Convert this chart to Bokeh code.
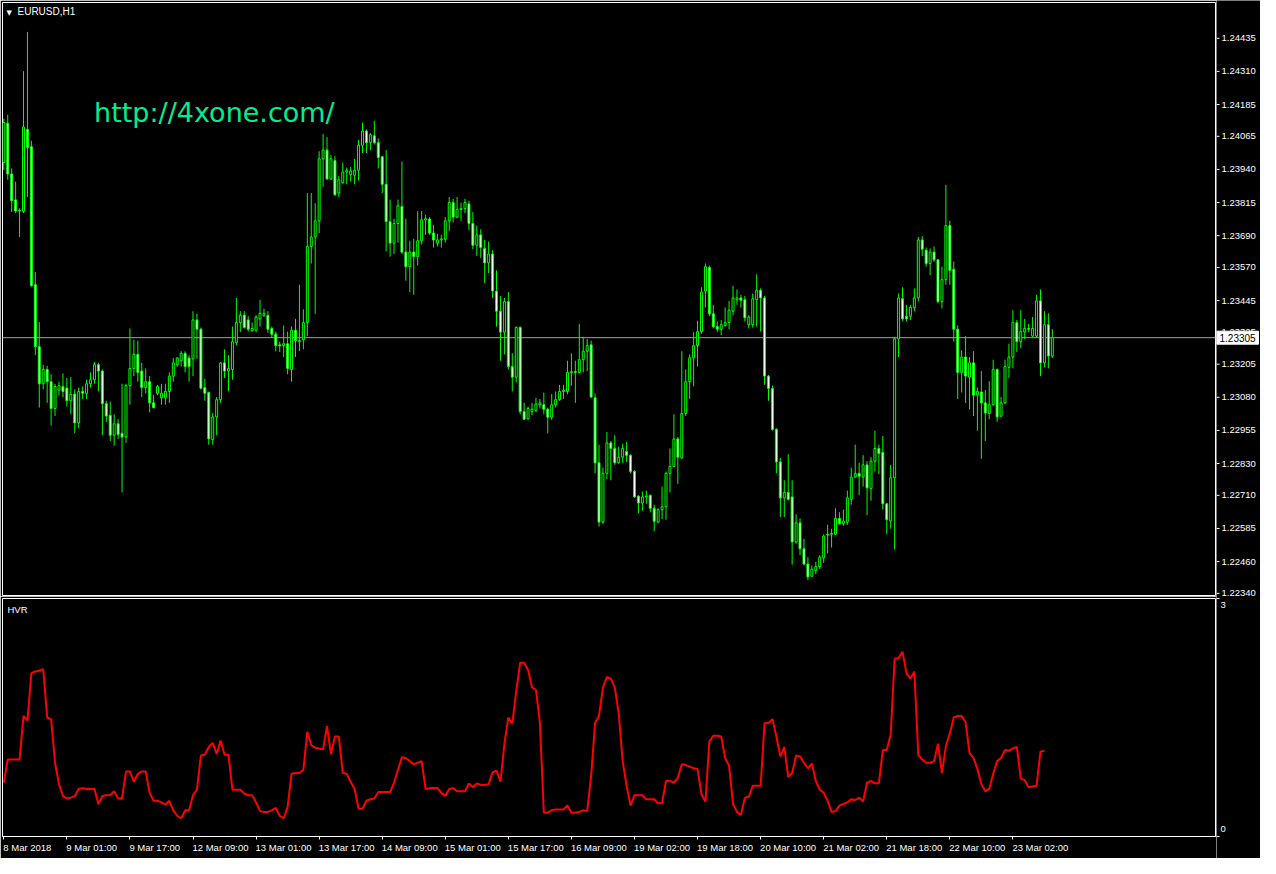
import numpy as np
from bokeh.plotting import figure
from bokeh.models import (ColumnDataSource, Range1d, FixedTicker, Span, Label, LinearAxis)
from bokeh.layouts import column, row
from bokeh.core.properties import value
from bokeh.embed import file_html
from bokeh.resources import INLINE

nan = float("nan")

symbol = "EURUSD,H1"
indicator = "HVR"
watermark = "http://4xone.com/"
last_price = 1.23305

open_ = [
    1.23966, 1.24114, 1.23923, 1.23825, 1.23783, 1.23782, 1.24091, 1.24026, 1.23505, 1.23271,
    1.23131, 1.23185, 1.23139, 1.23038, 1.23107, 1.23120, 1.23115, 1.23067, 1.23092, 1.22983,
    1.23102, 1.23095, 1.23131, 1.23146, 1.23203, 1.23179, 1.23056, 1.23012, 1.22937, 1.22980,
    1.22944, 1.22930, 1.23124, 1.23189, 1.23242, 1.23179, 1.23117, 1.23139, 1.23059, 1.23095,
    1.23078, 1.23078, 1.23102, 1.23160, 1.23203, 1.23218, 1.23246, 1.23228, 1.23225, 1.23372,
    1.23337, 1.23117, 1.23098, 1.22920, 1.23006, 1.23071, 1.23210, 1.23179, 1.23185, 1.23287,
    1.23362, 1.23390, 1.23372, 1.23331, 1.23333, 1.23376, 1.23389, 1.23389, 1.23340, 1.23318,
    1.23278, 1.23275, 1.23282, 1.23185, 1.23333, 1.23290, 1.23297, 1.23362, 1.23649, 1.23685,
    1.23746, 1.23980, 1.24013, 1.23904, 1.23973, 1.23851, 1.23890, 1.23930, 1.23920, 1.23918,
    1.23937, 1.24031, 1.24085, 1.24042, 1.24067, 1.24041, 1.23988, 1.23884, 1.23743, 1.23662,
    1.23736, 1.23800, 1.23628, 1.23573, 1.23628, 1.23611, 1.23671, 1.23749, 1.23753, 1.23700,
    1.23662, 1.23674, 1.23677, 1.23746, 1.23815, 1.23760, 1.23789, 1.23792, 1.23810, 1.23736,
    1.23654, 1.23693, 1.23642, 1.23587, 1.23621, 1.23481, 1.23405, 1.23326, 1.23441, 1.23196,
    1.23156, 1.23344, 1.23026, 1.22999, 1.23026, 1.23031, 1.23052, 1.23052, 1.23035, 1.23005,
    1.23052, 1.23071, 1.23102, 1.23102, 1.23173, 1.23177, 1.23174, 1.23222, 1.23254, 1.23278,
    1.23078, 1.22833, 1.22609, 1.22793, 1.22908, 1.22887, 1.22833, 1.22854, 1.22875, 1.22861,
    1.22800, 1.22707, 1.22681, 1.22704, 1.22710, 1.22661, 1.22609, 1.22656, 1.22667, 1.22793,
    1.22819, 1.22923, 1.22851, 1.23019, 1.23139, 1.23229, 1.23275, 1.23328, 1.23481, 1.23570,
    1.23395, 1.23347, 1.23337, 1.23351, 1.23362, 1.23405, 1.23448, 1.23455, 1.23448, 1.23354,
    1.23354, 1.23448, 1.23484, 1.23455, 1.23160, 1.23113, 1.22959, 1.22836, 1.22700, 1.22721,
    1.22704, 1.22534, 1.22606, 1.22508, 1.22451, 1.22405, 1.22426, 1.22441, 1.22474, 1.22560,
    1.22563, 1.22563, 1.22623, 1.22603, 1.22609, 1.22695, 1.22779, 1.22793, 1.22779, 1.22825,
    1.22736, 1.22839, 1.22887, 1.22872, 1.22678, 1.22613, 1.22776, 1.23300, 1.23452, 1.23386,
    1.23386, 1.23418, 1.23455, 1.23674, 1.23635, 1.23585, 1.23628, 1.23599, 1.23441, 1.23524,
    1.23728, 1.23563, 1.23337, 1.23174, 1.23232, 1.23156, 1.23210, 1.23088, 1.23100, 1.23059,
    1.23019, 1.23052, 1.23185, 1.23009, 1.23059, 1.23193, 1.23232, 1.23362, 1.23290, 1.23326,
    1.23340, 1.23311, 1.23311, 1.23444, 1.23210, 1.23354, 1.23236,
]

high_ = [
    1.24131, 1.24146, 1.23944, 1.23894, 1.23793, 1.24311, 1.24459, 1.24048, 1.23553, 1.23364,
    1.23203, 1.23199, 1.23167, 1.23131, 1.23139, 1.23170, 1.23153, 1.23156, 1.23110, 1.23117,
    1.23121, 1.23146, 1.23174, 1.23213, 1.23210, 1.23185, 1.23067, 1.23064, 1.23016, 1.22997,
    1.23131, 1.23131, 1.23340, 1.23297, 1.23294, 1.23210, 1.23189, 1.23160, 1.23088, 1.23127,
    1.23131, 1.23131, 1.23174, 1.23228, 1.23232, 1.23254, 1.23254, 1.23239, 1.23405, 1.23395,
    1.23343, 1.23150, 1.23102, 1.23021, 1.23081, 1.23213, 1.23261, 1.23239, 1.23347, 1.23455,
    1.23405, 1.23405, 1.23386, 1.23362, 1.23390, 1.23448, 1.23415, 1.23405, 1.23347, 1.23328,
    1.23290, 1.23351, 1.23328, 1.23347, 1.23376, 1.23505, 1.23412, 1.23851, 1.23851, 1.23812,
    1.24009, 1.24074, 1.24062, 1.23995, 1.23990, 1.23915, 1.23966, 1.23947, 1.23949, 1.23980,
    1.24052, 1.24117, 1.24091, 1.24077, 1.24124, 1.24057, 1.23990, 1.24013, 1.23826, 1.23754,
    1.23826, 1.23970, 1.23754, 1.23671, 1.23678, 1.23783, 1.23783, 1.23769, 1.23760, 1.23731,
    1.23697, 1.23693, 1.23760, 1.23836, 1.23829, 1.23836, 1.23815, 1.23829, 1.23822, 1.23779,
    1.23728, 1.23714, 1.23674, 1.23668, 1.23635, 1.23559, 1.23462, 1.23455, 1.23477, 1.23246,
    1.23347, 1.23347, 1.23059, 1.23045, 1.23059, 1.23078, 1.23074, 1.23098, 1.23041, 1.23092,
    1.23102, 1.23127, 1.23127, 1.23218, 1.23246, 1.23218, 1.23357, 1.23308, 1.23300, 1.23294,
    1.23095, 1.22901, 1.22815, 1.22949, 1.22915, 1.22937, 1.22894, 1.22905, 1.22911, 1.22865,
    1.22805, 1.22710, 1.22724, 1.22728, 1.22713, 1.22675, 1.22661, 1.22743, 1.22800, 1.22887,
    1.23016, 1.22930, 1.23254, 1.23185, 1.23242, 1.23326, 1.23369, 1.23495, 1.23585, 1.23577,
    1.23429, 1.23366, 1.23372, 1.23419, 1.23444, 1.23501, 1.23487, 1.23467, 1.23462, 1.23390,
    1.23472, 1.23544, 1.23491, 1.23462, 1.23164, 1.23124, 1.22963, 1.22851, 1.22767, 1.22865,
    1.22767, 1.22638, 1.22623, 1.22546, 1.22477, 1.22445, 1.22459, 1.22484, 1.22563, 1.22599,
    1.22584, 1.22661, 1.22646, 1.22656, 1.22728, 1.22815, 1.22901, 1.22833, 1.22862, 1.22839,
    1.22854, 1.22954, 1.22901, 1.22934, 1.22681, 1.22825, 1.23308, 1.23472, 1.23495, 1.23429,
    1.23429, 1.23491, 1.23685, 1.23688, 1.23645, 1.23642, 1.23649, 1.23602, 1.23573, 1.23882,
    1.23746, 1.23592, 1.23351, 1.23257, 1.23311, 1.23232, 1.23254, 1.23117, 1.23179, 1.23107,
    1.23141, 1.23222, 1.23189, 1.23081, 1.23222, 1.23282, 1.23409, 1.23372, 1.23409, 1.23376,
    1.23357, 1.23383, 1.23467, 1.23487, 1.23405, 1.23397, 1.23337,
]

low_ = [
    1.23937, 1.23901, 1.23779, 1.23775, 1.23685, 1.23775, 1.23836, 1.23498, 1.23239, 1.23041,
    1.23110, 1.23059, 1.22973, 1.23009, 1.23088, 1.23081, 1.23045, 1.23016, 1.22944, 1.22963,
    1.23074, 1.23074, 1.23117, 1.23131, 1.23102, 1.22937, 1.22987, 1.22915, 1.22897, 1.22923,
    1.22721, 1.22908, 1.23052, 1.23160, 1.23139, 1.23081, 1.23095, 1.23023, 1.23038, 1.23088,
    1.23052, 1.23052, 1.23059, 1.23139, 1.23196, 1.23196, 1.23174, 1.23139, 1.23160, 1.23225,
    1.23110, 1.23067, 1.22901, 1.22901, 1.22937, 1.23059, 1.23153, 1.23102, 1.23146, 1.23275,
    1.23326, 1.23340, 1.23328, 1.23328, 1.23326, 1.23347, 1.23383, 1.23323, 1.23304, 1.23254,
    1.23251, 1.23232, 1.23167, 1.23139, 1.23232, 1.23254, 1.23261, 1.23311, 1.23585, 1.23395,
    1.23700, 1.23875, 1.23901, 1.23901, 1.23841, 1.23836, 1.23887, 1.23884, 1.23894, 1.23884,
    1.23898, 1.24002, 1.24002, 1.24013, 1.24034, 1.23944, 1.23851, 1.23631, 1.23611, 1.23621,
    1.23664, 1.23621, 1.23520, 1.23477, 1.23467, 1.23577, 1.23657, 1.23693, 1.23693, 1.23645,
    1.23649, 1.23645, 1.23664, 1.23707, 1.23740, 1.23757, 1.23746, 1.23775, 1.23711, 1.23639,
    1.23613, 1.23606, 1.23510, 1.23549, 1.23455, 1.23347, 1.23218, 1.23242, 1.23185, 1.23102,
    1.23136, 1.23016, 1.22995, 1.22995, 1.23012, 1.23023, 1.23038, 1.23016, 1.22944, 1.22995,
    1.23041, 1.23067, 1.23074, 1.23092, 1.23124, 1.23059, 1.23170, 1.23174, 1.23179, 1.23078,
    1.22793, 1.22592, 1.22603, 1.22772, 1.22767, 1.22825, 1.22829, 1.22833, 1.22836, 1.22793,
    1.22700, 1.22642, 1.22652, 1.22678, 1.22646, 1.22574, 1.22605, 1.22620, 1.22618, 1.22721,
    1.22815, 1.22753, 1.22848, 1.23009, 1.23074, 1.23121, 1.23196, 1.23320, 1.23419, 1.23386,
    1.23340, 1.23326, 1.23314, 1.23347, 1.23337, 1.23390, 1.23429, 1.23419, 1.23366, 1.23340,
    1.23343, 1.23347, 1.23328, 1.23127, 1.23067, 1.22954, 1.22793, 1.22628, 1.22628, 1.22690,
    1.22448, 1.22527, 1.22484, 1.22445, 1.22390, 1.22402, 1.22412, 1.22431, 1.22455, 1.22491,
    1.22513, 1.22560, 1.22599, 1.22595, 1.22599, 1.22675, 1.22776, 1.22710, 1.22743, 1.22635,
    1.22690, 1.22800, 1.22790, 1.22656, 1.22563, 1.22584, 1.22505, 1.23232, 1.23369, 1.23366,
    1.23372, 1.23405, 1.23441, 1.23613, 1.23573, 1.23541, 1.23592, 1.23434, 1.23415, 1.23505,
    1.23505, 1.23290, 1.23074, 1.23098, 1.23059, 1.23035, 1.23009, 1.22954, 1.22848, 1.22915,
    1.22997, 1.23049, 1.22987, 1.23006, 1.23055, 1.23153, 1.23189, 1.23251, 1.23265, 1.23300,
    1.23326, 1.23308, 1.23305, 1.23160, 1.23193, 1.23189, 1.23228,
]

close_ = [
    1.24117, 1.23923, 1.23822, 1.23783, 1.23786, 1.24100, 1.24023, 1.23501, 1.23271, 1.23131,
    1.23185, 1.23139, 1.23038, 1.23121, 1.23124, 1.23102, 1.23067, 1.23091, 1.22983, 1.23102,
    1.23095, 1.23131, 1.23146, 1.23203, 1.23179, 1.23056, 1.23009, 1.22937, 1.22980, 1.22940,
    1.22930, 1.23124, 1.23189, 1.23242, 1.23174, 1.23117, 1.23139, 1.23059, 1.23041, 1.23121,
    1.23095, 1.23102, 1.23160, 1.23210, 1.23228, 1.23246, 1.23196, 1.23196, 1.23372, 1.23337,
    1.23114, 1.23095, 1.22923, 1.23006, 1.23071, 1.23210, 1.23179, 1.23189, 1.23290, 1.23362,
    1.23390, 1.23343, 1.23337, 1.23340, 1.23383, 1.23397, 1.23397, 1.23337, 1.23318, 1.23275,
    1.23274, 1.23282, 1.23189, 1.23333, 1.23294, 1.23294, 1.23362, 1.23649, 1.23685, 1.23746,
    1.23980, 1.24013, 1.23904, 1.23980, 1.23844, 1.23901, 1.23930, 1.23937, 1.23934, 1.23937,
    1.24031, 1.24085, 1.24041, 1.24071, 1.24041, 1.23985, 1.23884, 1.23743, 1.23662, 1.23736,
    1.23803, 1.23628, 1.23573, 1.23628, 1.23611, 1.23671, 1.23750, 1.23754, 1.23700, 1.23674,
    1.23674, 1.23678, 1.23746, 1.23815, 1.23760, 1.23789, 1.23793, 1.23815, 1.23736, 1.23654,
    1.23693, 1.23645, 1.23587, 1.23621, 1.23481, 1.23405, 1.23326, 1.23441, 1.23196, 1.23156,
    1.23344, 1.23026, 1.22997, 1.23038, 1.23035, 1.23055, 1.23059, 1.23035, 1.23005, 1.23052,
    1.23071, 1.23102, 1.23107, 1.23174, 1.23177, 1.23174, 1.23222, 1.23254, 1.23275, 1.23081,
    1.22833, 1.22609, 1.22793, 1.22908, 1.22887, 1.22833, 1.22854, 1.22887, 1.22861, 1.22800,
    1.22704, 1.22681, 1.22704, 1.22707, 1.22661, 1.22612, 1.22656, 1.22667, 1.22793, 1.22819,
    1.22923, 1.22854, 1.23019, 1.23139, 1.23229, 1.23275, 1.23328, 1.23477, 1.23573, 1.23395,
    1.23347, 1.23337, 1.23354, 1.23362, 1.23409, 1.23455, 1.23455, 1.23446, 1.23380, 1.23383,
    1.23452, 1.23484, 1.23455, 1.23160, 1.23113, 1.22959, 1.22836, 1.22700, 1.22721, 1.22695,
    1.22534, 1.22606, 1.22508, 1.22451, 1.22402, 1.22431, 1.22441, 1.22477, 1.22556, 1.22563,
    1.22566, 1.22623, 1.22603, 1.22613, 1.22700, 1.22779, 1.22793, 1.22782, 1.22825, 1.22738,
    1.22839, 1.22887, 1.22868, 1.22678, 1.22618, 1.22776, 1.23301, 1.23455, 1.23376, 1.23376,
    1.23419, 1.23455, 1.23674, 1.23639, 1.23585, 1.23628, 1.23599, 1.23441, 1.23524, 1.23728,
    1.23559, 1.23337, 1.23174, 1.23232, 1.23160, 1.23210, 1.23088, 1.23102, 1.23059, 1.23021,
    1.23052, 1.23185, 1.23006, 1.23059, 1.23196, 1.23232, 1.23362, 1.23290, 1.23328, 1.23340,
    1.23337, 1.23340, 1.23444, 1.23210, 1.23354, 1.23236, 1.23305,
]

hvr = [
    0.68, 0.97, 0.97, 0.97, 0.97, 1.52, 1.46, 2.06, 2.08, 2.09,
    2.11, 1.50, 1.48, 0.93, 0.66, 0.51, 0.48, 0.49, 0.51, 0.60,
    0.61, 0.60, 0.60, 0.60, 0.41, 0.51, 0.52, 0.52, 0.57, 0.48,
    0.48, 0.82, 0.82, 0.69, 0.79, 0.82, 0.82, 0.55, 0.45, 0.45,
    0.43, 0.40, 0.45, 0.33, 0.26, 0.23, 0.33, 0.33, 0.52, 0.59,
    1.02, 1.03, 1.13, 1.18, 1.04, 1.21, 1.03, 1.03, 0.59, 0.59,
    0.59, 0.54, 0.52, 0.52, 0.43, 0.32, 0.31, 0.31, 0.33, 0.36,
    0.26, 0.23, 0.37, 0.79, 0.80, 0.80, 0.84, 1.32, 1.15, 1.12,
    1.11, 1.10, 1.39, 1.04, 1.26, 1.26, 0.80, 0.79, 0.69, 0.60,
    0.35, 0.35, 0.45, 0.47, 0.48, 0.56, 0.56, 0.56, 0.56, 0.68,
    0.84, 1.00, 0.99, 0.95, 0.91, 0.93, 0.95, 0.60, 0.61, 0.61,
    0.61, 0.55, 0.51, 0.60, 0.61, 0.57, 0.57, 0.57, 0.67, 0.62,
    0.67, 0.65, 0.65, 0.66, 0.81, 0.83, 0.69, 1.17, 1.50, 1.42,
    1.83, 2.19, 2.19, 2.10, 1.88, 1.85, 1.44, 0.30, 0.30, 0.33,
    0.34, 0.34, 0.34, 0.39, 0.30, 0.30, 0.31, 0.33, 0.32, 0.76,
    1.43, 1.52, 1.88, 2.01, 1.99, 1.88, 1.55, 0.95, 0.64, 0.39,
    0.52, 0.52, 0.52, 0.47, 0.47, 0.47, 0.42, 0.42, 0.70, 0.70,
    0.68, 0.74, 0.91, 0.90, 0.88, 0.86, 0.85, 0.53, 0.44, 1.20,
    1.27, 1.27, 1.26, 0.99, 0.89, 0.41, 0.31, 0.27, 0.49, 0.50,
    0.64, 0.64, 0.64, 1.43, 1.43, 1.48, 1.26, 1.01, 1.13, 0.75,
    0.80, 1.02, 1.01, 0.93, 0.86, 0.92, 0.70, 0.59, 0.55, 0.45,
    0.31, 0.32, 0.39, 0.41, 0.43, 0.47, 0.46, 0.49, 0.44, 0.68,
    0.70, 0.67, 0.67, 1.09, 1.09, 1.29, 2.24, 2.25, 2.33, 2.06,
    1.99, 2.08, 1.03, 0.97, 0.93, 0.93, 0.95, 1.17, 0.80, 1.14,
    1.30, 1.50, 1.52, 1.52, 1.44, 1.05, 0.99, 0.85, 0.66, 0.57,
    0.60, 0.79, 0.95, 0.99, 1.09, 1.08, 1.11, 1.13, 0.73, 0.71,
    0.62, 0.63, 0.64, 1.07, 1.08, nan, nan,
]

time_labels = ["8 Mar 2018", "9 Mar 01:00", "9 Mar 17:00", "12 Mar 09:00", "13 Mar 01:00",
               "13 Mar 17:00", "14 Mar 09:00", "15 Mar 01:00", "15 Mar 17:00", "16 Mar 09:00",
               "19 Mar 02:00", "19 Mar 18:00", "20 Mar 10:00", "21 Mar 02:00", "21 Mar 18:00",
               "22 Mar 10:00", "23 Mar 02:00"]
time_label_bars = [0, 16, 32, 48, 64, 80, 96, 112, 128, 144, 160, 176, 192, 208, 224, 240, 256]

price_ticks = [1.24435, 1.24310, 1.24185, 1.24065, 1.23940, 1.23815, 1.23690, 1.23570, 1.23445,
               1.23325, 1.23205, 1.23080, 1.22955, 1.22830, 1.22710, 1.22585, 1.22460, 1.22340]
price_tick_text = ["%.5f" % t for t in price_ticks]
hvr_ticks = [3, 0]
hvr_tick_text = ["3", "0"]

# ---------------------------------------------------------------- layout / style constants
GREEN = "#00ff00"
FONT = "Liberation Sans"
FS = "9.5px"
STRIP_W = 44
MAIN_W = 1216
P_H, P_TOP, P_BOT = 596, 2, 1
H_H, H_TOP, H_BOT = 262, 2, 22
P_FRAME = P_H - P_TOP - P_BOT
H_FRAME = H_H - H_TOP - H_BOT
FRAME_W = MAIN_W - 2 - 1
TOTAL_H = P_H + H_H

n = len(close_)
bars = list(range(n))
src = ColumnDataSource(dict(
    x=bars, o=open_, h=high_, l=low_, c=close_,
    top=[max(a, b) for a, b in zip(open_, close_)],
    bottom=[min(a, b) for a, b in zip(open_, close_)],
    fill=["black" if c >= o else "white" for o, c in zip(open_, close_)],
))

XR = Range1d(-0.33, 307.4)
YR = Range1d(1.22332, 1.24570)
HR = Range1d(0, 3)

# ---------------------------------------------------------------- price panel
p = figure(width=MAIN_W, height=P_H, x_range=XR, y_range=YR, output_backend="svg",
           toolbar_location=None, x_axis_location=None, y_axis_location=None,
           background_fill_color="black", border_fill_color="black",
           min_border_left=2, min_border_right=1, min_border_top=P_TOP, min_border_bottom=P_BOT)
p.outline_line_color = "white"
p.outline_line_width = 1
p.grid.visible = False

p.add_layout(Span(location=last_price, dimension="width", line_color="#a0a0a0",
                  line_width=1, level="underlay"))
p.segment(x0="x", y0="l", x1="x", y1="h", source=src, line_color=GREEN, line_width=1)
p.vbar(x="x", top="top", bottom="bottom", width=0.5, source=src,
       fill_color="fill", line_color=GREEN, line_width=1)

p.add_layout(Label(x=22.9, y=1.24156, text=watermark, text_font="DejaVu Sans",
                   text_font_size="27px", text_color="#00ee90", text_baseline="alphabetic"))
p.add_layout(Label(x=XR.start, y=YR.end, text="\u25bc", x_offset=4, y_offset=-6,
                   text_font="DejaVu Sans", text_font_size="7px", text_color="white",
                   text_baseline="top"))
p.add_layout(Label(x=XR.start, y=YR.end, text=symbol, x_offset=15, y_offset=-3,
                   text_font=FONT, text_font_size="10px", text_color="white",
                   text_baseline="top"))

# ---------------------------------------------------------------- HVR panel
h = figure(width=MAIN_W, height=H_H, x_range=XR, y_range=HR, output_backend="svg",
           toolbar_location=None, y_axis_location=None,
           background_fill_color="black", border_fill_color="black",
           min_border_left=2, min_border_right=1, min_border_top=H_TOP, min_border_bottom=H_BOT)
h.outline_line_color = "white"
h.outline_line_width = 1
h.grid.visible = False
h.line(np.array(bars, dtype=float), np.array(hvr, dtype=float), line_color="#ff0000", line_width=2)
h.add_layout(Label(x=XR.start, y=HR.end, text=indicator, x_offset=5, y_offset=-5, text_font=FONT,
                   text_font_size=FS, text_color="white", text_baseline="top"))

# tick marks at the label bars
xa = h.xaxis[0]
xa.ticker = FixedTicker(ticks=time_label_bars)
xa.major_label_overrides = {t: "" for t in time_label_bars}
xa.major_label_text_font_size = "0px"
xa.major_label_standoff = 0
xa.axis_line_color = "white"
xa.major_tick_line_color = "white"
xa.major_tick_out = 3
xa.major_tick_in = 0
xa.minor_tick_line_color = None

# labels that start at their tick (MT4 style): centre them half a label-width to the right
CW = {" ": 0.278, "M": 0.833, "a": 0.556, "r": 0.333, ":": 0.278}
bars_per_px = (XR.end - XR.start) / FRAME_W
label_pos = []
for b, s in zip(time_label_bars, time_labels):
    em = sum(CW.get(ch, 0.556) for ch in s)
    label_pos.append(round(b + (em * 9.5 / 2 - 0.5) * bars_per_px, 4))
xl = LinearAxis(ticker=FixedTicker(ticks=label_pos),
                major_label_overrides={pos: s for pos, s in zip(label_pos, time_labels)})
xl.axis_line_color = None
xl.major_tick_line_color = None
xl.minor_tick_line_color = None
xl.major_tick_out = 0
xl.major_tick_in = 0
xl.major_label_standoff = 2
xl.major_label_text_color = "white"
xl.major_label_text_font = FONT
xl.major_label_text_font_size = FS
h.add_layout(xl, "below")

# ---------------------------------------------------------------- right price scale strip
ppx = (YR.end - YR.start) / P_FRAME
SR = Range1d(YR.start - (P_BOT + H_H) * ppx, YR.end + P_TOP * ppx)
hpx = (HR.end - HR.start) / H_FRAME
hvr_top_y = P_H + H_TOP
SHR = Range1d(HR.start - H_BOT * hpx, HR.end + hvr_top_y * hpx)

s = figure(width=STRIP_W, height=TOTAL_H, x_range=Range1d(0, STRIP_W), y_range=SR,
           output_backend="svg", toolbar_location=None, x_axis_location=None,
           y_axis_location=None, background_fill_color="black", border_fill_color="black",
           min_border_left=0, min_border_right=0, min_border_top=0, min_border_bottom=0)
s.outline_line_color = None
s.grid.visible = False
s.extra_y_ranges = {"hvr": SHR}

s.segment(x0=0, x1=3, y0=price_ticks, y1=price_ticks, line_color="white", line_width=1)
s.text(x=5, y=price_ticks, text=price_tick_text, text_color="white", text_font=value(FONT),
       text_font_size=value(FS), text_baseline="middle", text_align="left")
s.rect(x=21, y=last_price, width=42, height=13, height_units="screen",
       fill_color="white", line_color="white")
s.text(x=3, y=last_price, text=["%.5f" % last_price], text_color="black", text_font=value(FONT),
       text_font_size=value("10px"), text_baseline="middle", text_align="left")

s.segment(x0=0, x1=3, y0=hvr_ticks, y1=hvr_ticks, line_color="white", line_width=1,
          y_range_name="hvr")
s.text(x=4, y=[2.92, 0.09], text=hvr_tick_text, text_color="white", text_font=value(FONT),
       text_font_size=value(FS), text_baseline="middle", text_align="left", y_range_name="hvr")

layout = row(column(p, h, spacing=0), s, spacing=0)
open("out.html", "w").write(file_html(layout, INLINE))
